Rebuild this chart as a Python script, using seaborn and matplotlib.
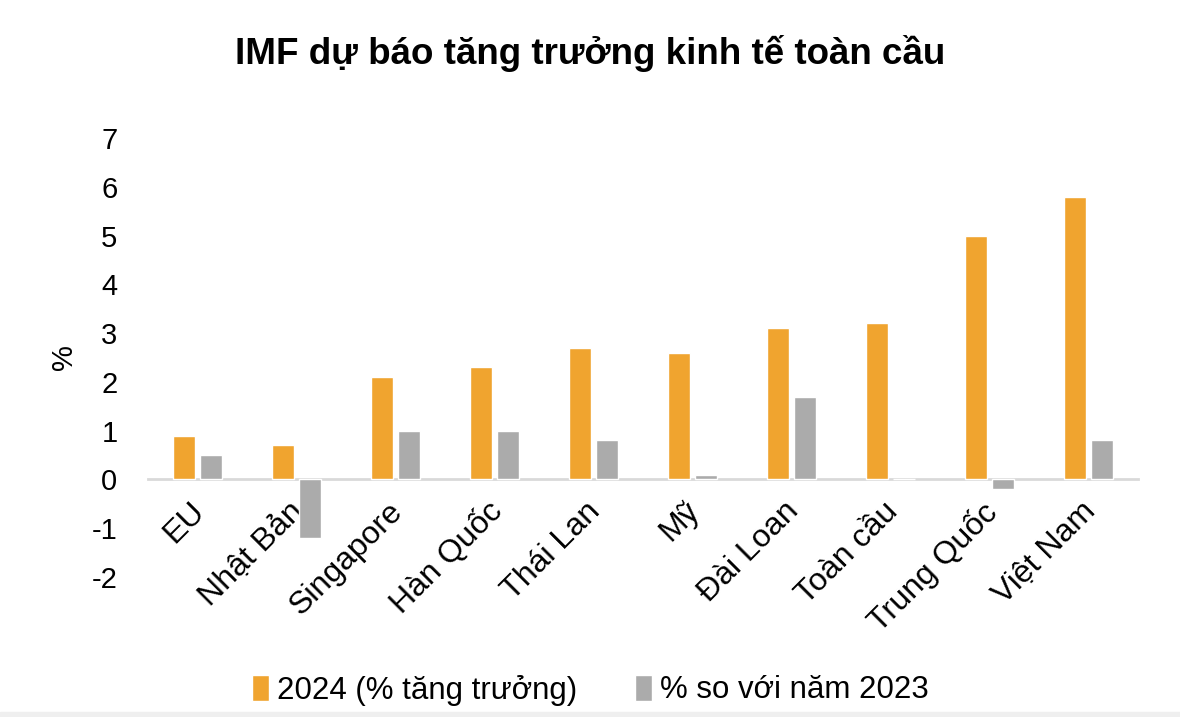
import matplotlib
matplotlib.use("Agg")
import matplotlib.pyplot as plt
import matplotlib.transforms as mtransforms
import seaborn as sns
import pandas as pd
from matplotlib.patches import Rectangle

categories = ["EU", "Nhật Bản", "Singapore", "Hàn Quốc", "Thái Lan", "Mỹ",
              "Đài Loan", "Toàn cầu", "Trung Quốc", "Việt Nam"]
growth_2024 = [0.9, 0.7, 2.1, 2.3, 2.7, 2.6, 3.1, 3.2, 5.0, 5.8]
vs_2023 = [0.5, -1.2, 1.0, 1.0, 0.8, 0.1, 1.7, 0.0, -0.2, 0.8]
series_names = ["2024 (% tăng trưởng)", "% so với năm 2023"]
y_ticks = [-2, -1, 0, 1, 2, 3, 4, 5, 6, 7]

df = pd.DataFrame({
    "cat": categories * 2,
    "val": growth_2024 + vs_2023,
    "series": [series_names[0]] * len(categories) + [series_names[1]] * len(categories),
})

sns.set_theme(style="white")
plt.rcParams["font.family"] = ["Liberation Sans", "DejaVu Sans"]
plt.rcParams["text.color"] = "black"
plt.rcParams["xtick.color"] = "black"
plt.rcParams["ytick.color"] = "black"
plt.rcParams["axes.labelcolor"] = "black"

fig = plt.figure(figsize=(11.8, 7.17), dpi=100)
ax = fig.add_axes([148 / 1180, 1 - 577 / 717, 990 / 1180, 439 / 717])

sns.barplot(data=df, x="cat", y="val", hue="series", order=categories,
            hue_order=series_names, palette=["#F0A42F", "#ABABAB"],
            width=0.56, gap=0.2, saturation=1, ax=ax, legend=True)

for name, s in ax.spines.items():
    s.set_visible(False)
ax.spines["bottom"].set_visible(True)
ax.spines["bottom"].set_position(("data", 0))
ax.spines["bottom"].set_color("#D9D9D9")
ax.spines["bottom"].set_linewidth(2)
ax.spines["bottom"].set_zorder(0.5)

ax.set_ylim(-2, 7)
ax.set_xlim(-0.5, len(categories) - 0.5)
ax.set_yticks(y_ticks)
ax.set_yticklabels([str(t) for t in y_ticks], fontsize=21)
ax.tick_params(axis="y", length=0, pad=22)
ax.set_xticks(range(len(categories)))
ax.set_xticklabels(categories, fontsize=23, rotation=45, ha="right",
                   va="top", rotation_mode="anchor")
ax.tick_params(axis="x", length=0, pad=12)
shift = mtransforms.ScaledTranslation(-8 / 100, 0, fig.dpi_scale_trans)
for lbl in ax.get_xticklabels():
    lbl.set_transform(lbl.get_transform() + shift)
ax.set_xlabel("")
ax.set_ylabel("%", fontsize=21, labelpad=10)

leg = ax.get_legend()
handles = leg.legend_handles
leg.remove()
fig.legend(handles, series_names, loc="center", bbox_to_anchor=(0.5, 1 - 690 / 717),
           ncol=2, frameon=False, fontsize=22.5, handlelength=0.55, handleheight=0.9,
           handletextpad=0.25, columnspacing=1.85)

fig.text(0.5, 1 - 53 / 717, "IMF dự báo tăng trưởng kinh tế toàn cầu",
         ha="center", va="center", fontsize=26.5, fontweight="bold")

fig.patches.append(Rectangle((0, 0), 1, 5 / 717, transform=fig.transFigure,
                             color="#EFEFEF", zorder=-1))

fig.savefig("out.png", dpi=100)
